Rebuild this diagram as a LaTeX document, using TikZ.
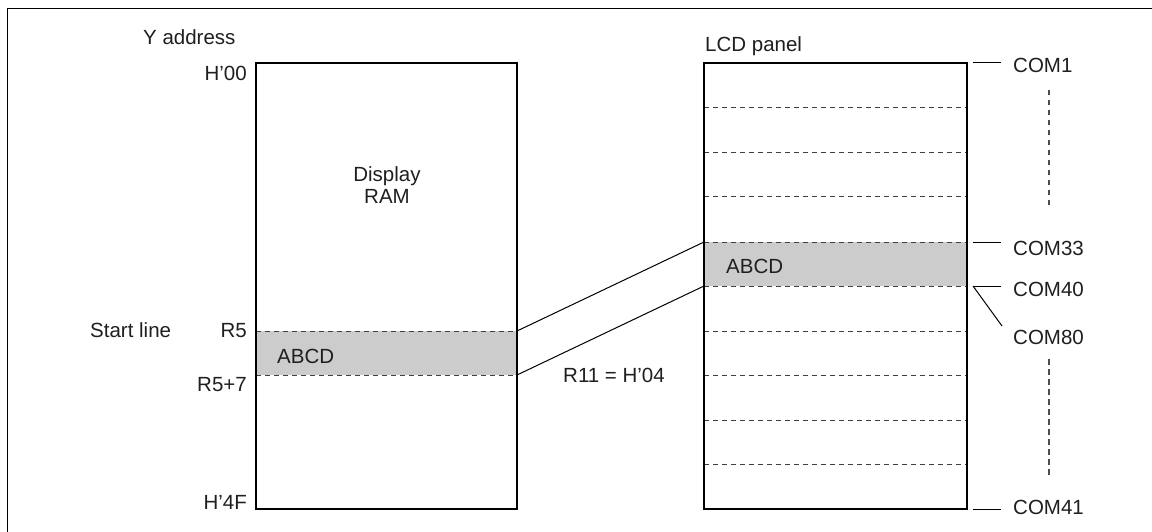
\documentclass[tikz,border=0pt]{standalone}
\usepackage{fontspec}
\setmainfont{Liberation Sans}
\begin{document}
\begin{tikzpicture}[x=1pt,y=-1pt,
  lbl/.style={inner sep=0pt,font=\fontsize{20.5}{24}\selectfont,text=black!88},
  panel/.style={draw,line width=2pt,minimum width=261pt,minimum height=446pt,inner sep=0pt,outer sep=0pt},
  rowline/.style={draw=black!75,line width=1pt,dash pattern=on 5pt off 4pt},
  band/.style={fill=black!20,draw=none},
  link/.style={draw,line width=1pt},
  tick/.style={draw,line width=1pt},
  ellip/.style={draw=black!70,line width=1.4pt,dash pattern=on 5.5pt off 4.5pt}]
\useasboundingbox (0,0) rectangle (1152,532);
% outer frame (only top and left edges fall inside the page)
\draw[line width=1pt] (7,540) -- (7,9) -- (1160,9);

% ---- Display RAM ----
\path[band] (256,331) rectangle (517,375);
\draw[rowline] (256,331) -- (517,331);
\draw[rowline] (256,375) -- (517,375);
\node[panel] (ram) at (386.5,286) {};
\node[lbl,anchor=base west] (yaddr) at (143,45) {Y address};
\node[lbl,anchor=base east] (h00) at (247,81) {H’00};
\node[lbl,anchor=base] (disp) at (387,182) {Display};
\node[lbl,anchor=base] (dram) at (387,204) {RAM};
\node[lbl,anchor=base west] (start) at (90,337) {Start line};
\node[lbl,anchor=base east] (r5) at (247,337) {R5};
\node[lbl,anchor=base east] (r57) at (247,391) {R5+7};
\node[lbl,anchor=base east] (h4f) at (247,509) {H’4F};
\node[lbl,anchor=base west] (abcdl) at (277,363) {ABCD};

% ---- LCD panel ----
\path[band] (704,242) rectangle (967,286);
\foreach \yy in {108,153,197,242,286,331,375,420,464}
  \draw[rowline] (704,\yy) -- (967,\yy);
\node[panel,minimum width=263pt] (lcd) at (835.5,286) {};
\node[lbl,anchor=base west] (lcdt) at (705,52) {LCD panel};
\node[lbl,anchor=base west] (abcdr) at (726,273) {ABCD};

% ---- mapping lines ----
\coordinate (ramtop) at (517,331);
\coordinate (rambot) at (517,375);
\coordinate (lcdtop) at (704,242);
\coordinate (lcdbot) at (704,286);
\draw[link] (ramtop) -- (lcdtop);
\draw[link] (rambot) -- (lcdbot);
\node[lbl,anchor=base west] (r11) at (563,382) {R11 = H’04};

% ---- COM labels ----
\node[lbl,anchor=base west] (com1) at (1013,73) {COM1};
\node[lbl,anchor=base west] (com33) at (1013,255) {COM33};
\node[lbl,anchor=base west] (com40) at (1013,296) {COM40};
\node[lbl,anchor=base west] (com80) at (1013,344) {COM80};
\node[lbl,anchor=base west] (com41) at (1013,514) {COM41};
\coordinate (t1) at (973,63);
\coordinate (t33) at (973,242);
\coordinate (t40) at (973,286);
\coordinate (t41) at (973,509);
\coordinate (t80) at (1002,326);
\draw[tick] (t1) -- ++(28,0);
\draw[tick] (t33) -- ++(28,0);
\draw[tick] (t40) -- ++(28,0);
\draw[tick] (t41) -- ++(28,0);
\draw[tick] (t40) -- (t80);
\draw[ellip] (1049,90) -- (1049,209);
\draw[ellip] (1049,359) -- (1049,478);
\end{tikzpicture}
\end{document}
